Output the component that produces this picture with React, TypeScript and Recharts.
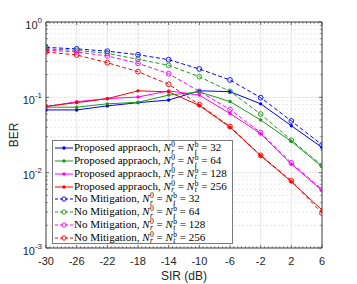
import React from 'react';
import { LineChart, Line, XAxis, YAxis, ReferenceLine, Legend } from 'recharts';

// ---- data ----
const sir = [-30, -26, -22, -18, -14, -10, -6, -2, 2, 6];
const prop32 = [0.068, 0.068, 0.077, 0.085, 0.092, 0.122, 0.119, 0.082, 0.042, 0.0216];
const prop64 = [0.074, 0.074, 0.082, 0.086, 0.107, 0.118, 0.088, 0.05, 0.026, 0.012];
const prop128 = [0.075, 0.0875, 0.096, 0.101, 0.122, 0.107, 0.061, 0.033, 0.013, 0.0058];
const prop256 = [0.076, 0.085, 0.096, 0.122, 0.118, 0.078, 0.04, 0.0168, 0.0076, 0.0032];
const nom32 = [0.46, 0.44, 0.41, 0.368, 0.316, 0.238, 0.17, 0.099, 0.0486, 0.0234];
const nom64 = [0.44, 0.42, 0.384, 0.32, 0.266, 0.188, 0.12, 0.06, 0.027, 0.0125];
const nom128 = [0.425, 0.4, 0.354, 0.283, 0.206, 0.12, 0.069, 0.034, 0.0135, 0.006];
const nom256 = [0.4, 0.365, 0.288, 0.219, 0.149, 0.08, 0.041, 0.017, 0.0078, 0.0029];

const xMajor = [-30, -26, -22, -18, -14, -10, -6, -2, 2, 6];
const yMajor = [0.001, 0.01, 0.1, 1];
const yExp = ['-3', '-2', '-1', '0'];
const antennas = [32, 64, 128, 256];

const colors = ['#0000ff', '#1d9a1d', '#ff00ff', '#ff0000'];

type Series = { key: string; prefix: string; n: number; color: string; dashed: boolean; values: number[] };
const series: Series[] = [
  { key: 'p32', prefix: 'Proposed appraoch, ', n: antennas[0], color: colors[0], dashed: false, values: prop32 },
  { key: 'p64', prefix: 'Proposed appraoch, ', n: antennas[1], color: colors[1], dashed: false, values: prop64 },
  { key: 'p128', prefix: 'Proposed appraoch, ', n: antennas[2], color: colors[2], dashed: false, values: prop128 },
  { key: 'p256', prefix: 'Proposed appraoch, ', n: antennas[3], color: colors[3], dashed: false, values: prop256 },
  { key: 'n32', prefix: 'No Mitigation, ', n: antennas[0], color: colors[0], dashed: true, values: nom32 },
  { key: 'n64', prefix: 'No Mitigation, ', n: antennas[1], color: colors[1], dashed: true, values: nom64 },
  { key: 'n128', prefix: 'No Mitigation, ', n: antennas[2], color: colors[2], dashed: true, values: nom128 },
  { key: 'n256', prefix: 'No Mitigation, ', n: antennas[3], color: colors[3], dashed: true, values: nom256 },
];

const data = sir.map((s, i) => {
  const row: Record<string, number> = { sir: s };
  series.forEach((sr) => {
    row[sr.key] = sr.values[i];
  });
  return row;
});

const xTicksAll: number[] = [];
for (let v = -30; v <= 6; v += 0.5) xTicksAll.push(v);
const yTicksAll: number[] = [];
for (let e = -3; e <= -1; e++) {
  for (let m = 1; m <= 9; m++) yTicksAll.push(Number((m * Math.pow(10, e)).toPrecision(3)));
}
yTicksAll.push(1);
const yMinor = yTicksAll.filter((v) => !yMajor.includes(v));

const AX = '#3a3a3a';
const SANS = '"Liberation Sans", Arial, Helvetica, sans-serif';
const SERIF = '"Liberation Serif", "Times New Roman", "DejaVu Serif", serif';

const isMajorY = (v: number) => yMajor.some((m) => Math.abs(m - v) < 1e-12);

const BottomTick = (p: any) => {
  const v = p.payload.value;
  const major = xMajor.includes(v);
  return (
    <g>
      <line x1={p.x} y1={p.y} x2={p.x} y2={p.y - (major ? 3 : 1.6)} stroke={AX} strokeWidth={0.7} />
      {major && (
        <text x={p.x} y={p.y + 17} textAnchor="middle" fontSize={11} fontFamily={SANS} fill="#262626">
          {v}
        </text>
      )}
    </g>
  );
};
const TopTick = (p: any) => {
  const major = xMajor.includes(p.payload.value);
  return <line x1={p.x} y1={p.y} x2={p.x} y2={p.y + (major ? 3 : 1.6)} stroke={AX} strokeWidth={0.7} />;
};
const LeftTick = (p: any) => {
  const v = p.payload.value;
  const major = isMajorY(v);
  const idx = yMajor.findIndex((m) => Math.abs(m - v) < 1e-12);
  return (
    <g>
      <line x1={p.x} y1={p.y} x2={p.x + (major ? 3 : 1.6)} y2={p.y} stroke={AX} strokeWidth={0.7} />
      {major && (
        <text x={p.x - 4} y={p.y + 6.5} textAnchor="end" fontSize={11} fontFamily={SANS} fill="#262626">
          <tspan>10</tspan>
          <tspan dy={-6} fontSize={8}>
            {yExp[idx]}
          </tspan>
        </text>
      )}
    </g>
  );
};
const RightTick = (p: any) => {
  const major = isMajorY(p.payload.value);
  return <line x1={p.x} y1={p.y} x2={p.x - (major ? 3 : 1.6)} y2={p.y} stroke={AX} strokeWidth={0.7} />;
};

const makeDot = (color: string, dashed: boolean) => (p: any) => {
  if (p.cx == null || p.cy == null) return <g key={p.key} />;
  return dashed ? (
    <circle key={p.key} cx={p.cx} cy={p.cy} r={2.4} fill="none" stroke={color} strokeWidth={0.9} />
  ) : (
    <circle key={p.key} cx={p.cx} cy={p.cy} r={1.7} fill={color} stroke="none" />
  );
};

const Stack = ({ sup, sub }: { sup: string; sub: string }) => (
  <span
    style={{
      display: 'inline-flex',
      flexDirection: 'column',
      fontSize: 7.5,
      lineHeight: '6.5px',
      verticalAlign: 'middle',
      marginLeft: 0.5,
      fontStyle: 'italic',
    }}
  >
    <span style={{ fontStyle: 'normal' }}>{sup}</span>
    <span>{sub}</span>
  </span>
);

const LegendBox = () => (
  <div
    style={{
      width: 181,
      height: 104,
      boxSizing: 'border-box',
      border: '1px solid #7a7a7a',
      background: '#ffffff',
      fontFamily: SERIF,
      fontSize: 11,
      color: '#000',
      paddingTop: 1,
      textAlign: 'left',
    }}
  >
    {series.map((s) => (
      <div key={s.key} style={{ height: 12.75, display: 'flex', alignItems: 'center', whiteSpace: 'nowrap' }}>
        <svg width={18} height={8} style={{ marginLeft: 2, marginRight: 1, flex: 'none' }}>
          <line
            x1={0}
            y1={4}
            x2={18}
            y2={4}
            stroke={s.color}
            strokeWidth={1}
            strokeDasharray={s.dashed ? '3 2' : undefined}
          />
          {s.dashed ? (
            <circle cx={9} cy={4} r={2.2} fill="none" stroke={s.color} strokeWidth={0.9} />
          ) : (
            <circle cx={9} cy={4} r={1.7} fill={s.color} />
          )}
        </svg>
        <span>
          {s.prefix}
          <i>N</i>
          <Stack sup="0" sub="r" />
          {' = '}
          <i>N</i>
          <Stack sup="b" sub="t" />
          {' = ' + s.n}
        </span>
      </div>
    ))}
  </div>
);

export default function App() {
  return (
    <div style={{ position: 'absolute', left: 0, top: 0, width: 357, height: 284, background: '#fff' }}>
      <LineChart width={357} height={284} data={data} margin={{ top: 21, right: 34, bottom: 35, left: 45 }}>
        <XAxis
          xAxisId="b"
          dataKey="sir"
          type="number"
          domain={[-30, 6]}
          ticks={xTicksAll}
          interval={0}
          height={1}
          tickSize={0}
          tickMargin={0}
          tickLine={false}
          axisLine={{ stroke: AX, strokeWidth: 1 }}
          tick={<BottomTick />}
          allowDataOverflow
          label={{
            content: () => (
              <text x={184} y={280} textAnchor="middle" fontSize={12} fontFamily={SANS} fill="#262626">
                SIR (dB)
              </text>
            ),
          }}
        />
        <XAxis
          xAxisId="t"
          orientation="top"
          dataKey="sir"
          type="number"
          domain={[-30, 6]}
          ticks={xTicksAll}
          interval={0}
          height={1}
          tickSize={0}
          tickMargin={0}
          tickLine={false}
          axisLine={{ stroke: AX, strokeWidth: 1 }}
          tick={<TopTick />}
          allowDataOverflow
        />
        <YAxis
          yAxisId="l"
          scale="log"
          type="number"
          domain={[0.001, 1]}
          ticks={yTicksAll}
          interval={0}
          width={1}
          tickSize={0}
          tickMargin={0}
          tickLine={false}
          axisLine={{ stroke: AX, strokeWidth: 1 }}
          tick={<LeftTick />}
          allowDataOverflow
          label={{
            content: () => (
              <text
                x={14}
                y={135}
                transform="rotate(-90 14 135)"
                textAnchor="middle"
                dominantBaseline="central"
                fontSize={12}
                fontFamily={SANS}
                fill="#262626"
              >
                BER
              </text>
            ),
          }}
        />
        <YAxis
          yAxisId="r"
          orientation="right"
          scale="log"
          type="number"
          domain={[0.001, 1]}
          ticks={yTicksAll}
          interval={0}
          width={1}
          tickSize={0}
          tickMargin={0}
          tickLine={false}
          axisLine={{ stroke: AX, strokeWidth: 1 }}
          tick={<RightTick />}
          allowDataOverflow
        />
        {yMinor.map((v) => (
          <ReferenceLine
            key={'ym' + v}
            xAxisId="b"
            yAxisId="l"
            y={v}
            stroke="#dcdcdc"
            strokeWidth={0.7}
            strokeDasharray="2 2"
          />
        ))}
        {yMajor.slice(1, 3).map((v) => (
          <ReferenceLine key={'yM' + v} xAxisId="b" yAxisId="l" y={v} stroke="#e2e2e2" strokeWidth={0.8} />
        ))}
        {xMajor.slice(1, -1).map((v) => (
          <ReferenceLine key={'xM' + v} xAxisId="b" yAxisId="l" x={v} stroke="#e2e2e2" strokeWidth={0.8} />
        ))}
        {series.map((s) => (
          <Line
            key={s.key}
            xAxisId="b"
            yAxisId="l"
            type="linear"
            dataKey={s.key}
            stroke={s.color}
            strokeWidth={1}
            strokeDasharray={s.dashed ? '4 2.5' : undefined}
            dot={makeDot(s.color, s.dashed)}
            activeDot={false}
            isAnimationActive={false}
          />
        ))}
        <Legend
          layout="vertical"
          align="center"
          verticalAlign="middle"
          width={181}
          height={104}
          wrapperStyle={{ left: 52, top: 140, width: 181, height: 104, margin: 0, padding: 0 }}
          content={() => <LegendBox />}
        />
      </LineChart>
    </div>
  );
}
